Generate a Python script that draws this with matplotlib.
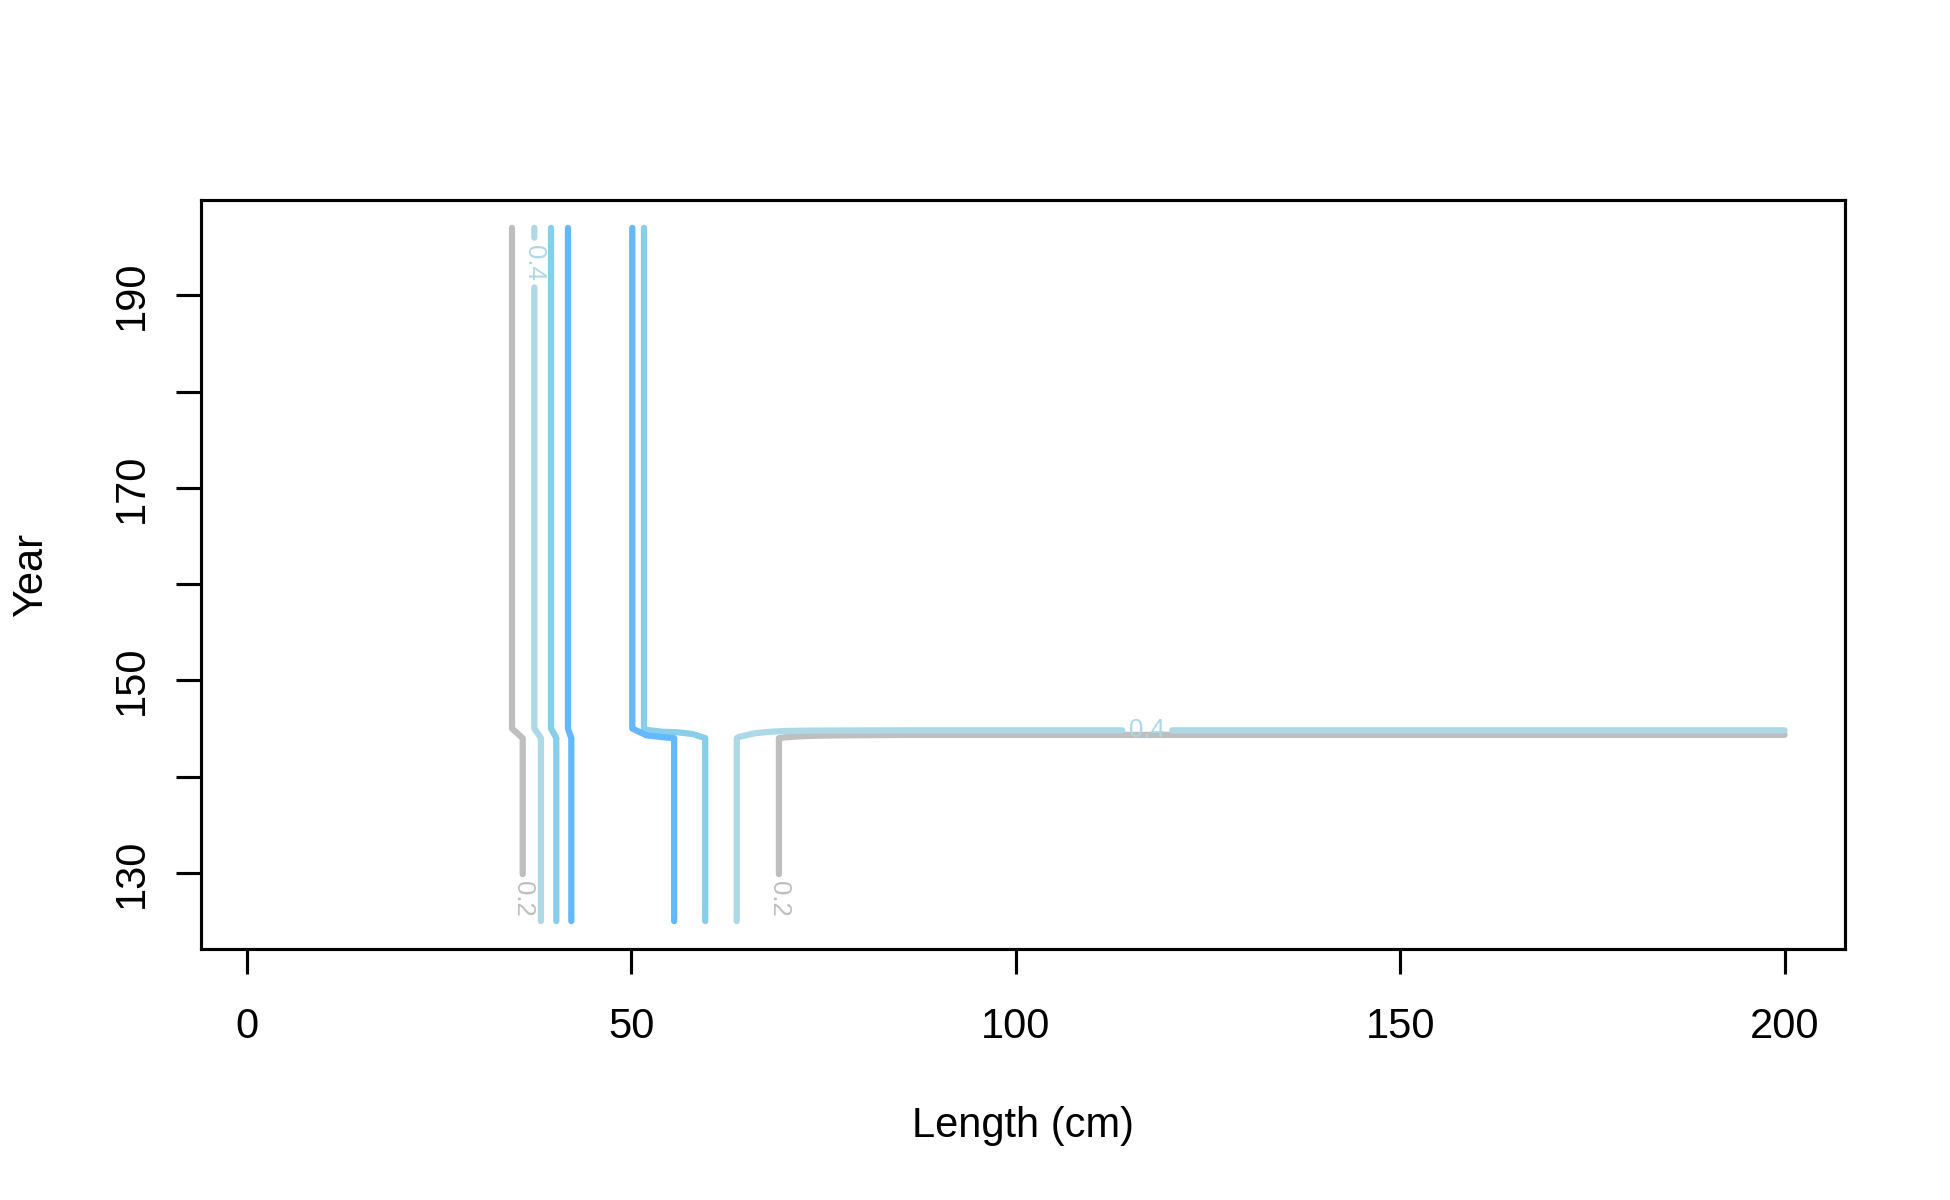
import numpy as np
import matplotlib
matplotlib.use("Agg")
import matplotlib.pyplot as plt

plt.rcParams['font.family'] = ['Liberation Sans', 'DejaVu Sans']

# ---- data ----
lengths = [2, 20, 24, 26, 28, 30, 32, 34, 36, 38, 40, 42, 44, 46, 48, 50, 52, 54,
           56, 58, 60, 62, 64, 66, 68, 70, 72, 74, 76, 78, 80, 82, 84, 86, 200]
sel_early = [0.0, 0.0, 0.003, 0.01, 0.02, 0.04, 0.08, 0.13, 0.205, 0.376, 0.575, 0.784,
             0.95, 0.99, 0.99, 0.96, 0.90, 0.84, 0.789, 0.69, 0.578, 0.47, 0.388, 0.32,
             0.24, 0.173, 0.13, 0.105, 0.09, 0.08, 0.072, 0.066, 0.06, 0.055, 0.055]
sel_late = [0.0, 0.0, 0.005, 0.015, 0.03, 0.06, 0.11, 0.175, 0.28, 0.454, 0.642, 0.822,
            0.95, 0.99, 0.95, 0.816, 0.553, 0.48, 0.48, 0.48, 0.48, 0.48, 0.48, 0.48,
            0.48, 0.48, 0.48, 0.48, 0.48, 0.48, 0.48, 0.48, 0.48, 0.48, 0.48]
years = list(range(125, 198))
change_year = 145
levels = [0.2, 0.4, 0.6, 0.8]
level_colors = ['#BEBEBE', '#ADD8E6', '#87CEEB', '#63B8FF']
label_levels = [0.2, 0.4]
label_positions = [(37.4, 193.4), (35.9, 127.3), (69.2, 127.3), (117.1, 144.8)]
xticks = [0, 50, 100, 150, 200]
yticks = [130, 140, 150, 160, 170, 180, 190]
ytick_labels = ['130', '', '150', '', '170', '', '190']

Z = np.array([sel_early if y < change_year else sel_late for y in years])

fig = plt.figure(figsize=(19.5, 12), dpi=100)
ax = fig.add_axes([0.1033, 0.2093, 0.8431, 0.6239])

cs = ax.contour(lengths, years, Z, levels=levels, colors=level_colors, linewidths=4.5)
cs.set_capstyle('round')
cs.set_joinstyle('round')
ax.clabel(cs, levels=label_levels, manual=label_positions, inline=True,
          inline_spacing=9, fontsize=18.5, fmt='%g')

xr = lengths[-1] - lengths[0]
yr = years[-1] - years[0]
ax.set_xlim(lengths[0] - 0.04 * xr, lengths[-1] + 0.04 * xr)
ax.set_ylim(years[0] - 0.04 * yr, years[-1] + 0.04 * yr)

ax.set_xticks(xticks)
ax.set_yticks(yticks)
ax.set_yticklabels(ytick_labels, rotation=90, va='center')
ax.tick_params(axis='both', length=18, width=2.25, labelsize=30, color='black')
ax.tick_params(axis='x', pad=24)
ax.tick_params(axis='y', pad=18)
for s in ax.spines.values():
    s.set_linewidth(2.25)
ax.set_xlabel('Length (cm)', fontsize=30)
ax.set_ylabel('Year', fontsize=30)
ax.xaxis.set_label_coords(0.5, -0.236)
ax.xaxis.label.set_va('center')
ax.yaxis.set_label_coords(-0.1037, 0.5)
ax.yaxis.label.set_va('center')

fig.savefig('out.png', dpi=100)
